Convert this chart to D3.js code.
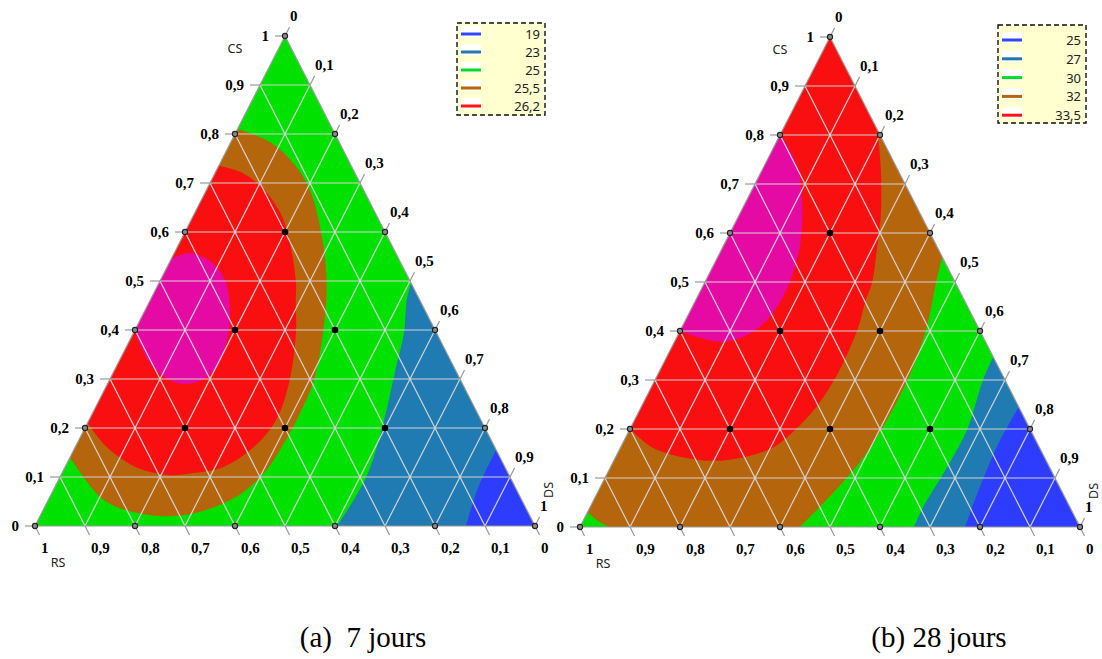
<!DOCTYPE html>
<html>
<head>
<meta charset="utf-8">
<script src="https://cdn.jsdelivr.net/npm/d3@7/dist/d3.min.js"></script>
<style>
  body { margin: 0; background: #fff; }
</style>
</head>
<body>
<div id="chart"></div>
<script>
// tick values along each side and their labels
const tickValues = [0, 0.1, 0.2, 0.3, 0.4, 0.5, 0.6, 0.7, 0.8, 0.9, 1];
const tickLabels = ['0', '0,1', '0,2', '0,3', '0,4', '0,5', '0,6', '0,7', '0,8', '0,9', '1'];

// design points [CS, DS] (RS = 1 - CS - DS)
const designPoints = [
  [1, 0], [0.8, 0], [0.6, 0], [0.4, 0], [0.2, 0], [0, 0],
  [0.8, 0.2], [0.6, 0.4], [0.4, 0.6], [0.2, 0.8], [0, 1],
  [0, 0.8], [0, 0.6], [0, 0.4], [0, 0.2],
  [0.6, 0.2], [0.4, 0.2], [0.4, 0.4], [0.2, 0.2], [0.2, 0.4], [0.2, 0.6]
];

// legend levels
const levels7 = ['19', '23', '25', '25,5', '26,2'];
const levels28 = ['25', '27', '30', '32', '33,5'];

// iso-boundaries, as [CS, DS]
// (a) 7 jours
const brown7 = [[0.81, 0], [0.782, 0.081], [0.733, 0.156], [0.68, 0.212], [0.61, 0.265], [0.543, 0.309],
  [0.47, 0.348], [0.394, 0.379], [0.298, 0.409], [0.231, 0.415], [0.176, 0.414], [0.108, 0.404],
  [0.059, 0.372], [0.029, 0.316], [0.02, 0.256], [0.027, 0.189], [0.053, 0.111], [0.14, 0]];
const red7 = [[0.735, 0], [0.72, 0.056], [0.686, 0.115], [0.631, 0.179], [0.569, 0.227], [0.496, 0.274],
  [0.461, 0.291], [0.394, 0.325], [0.292, 0.362], [0.216, 0.374], [0.161, 0.357], [0.12, 0.316],
  [0.108, 0.262], [0.104, 0.214], [0.12, 0.142], [0.161, 0.063], [0.21, 0]];
const magenta7 = [[0.545, 0], [0.557, 0.031], [0.539, 0.083], [0.502, 0.129], [0.451, 0.164], [0.4, 0.188],
  [0.38, 0.194], [0.324, 0.202], [0.294, 0.177], [0.292, 0.138], [0.324, 0.074], [0.38, 0.016], [0.4, 0]];
const steel7 = [[0.496, 0.504], [0.461, 0.513], [0.394, 0.541], [0.324, 0.56], [0.243, 0.583],
  [0.176, 0.6], [0.108, 0.612], [0.053, 0.611], [0, 0.604]];
const blue7 = [[0.155, 0.845], [0.08, 0.847], [0, 0.862]];

// (b) 28 jours
const brown28 = [[0.551, 0.449], [0.498, 0.463], [0.429, 0.484], [0.396, 0.492], [0.327, 0.503],
  [0.259, 0.506], [0.192, 0.503], [0.131, 0.493], [0.076, 0.474], [0, 0.44]];
const red28 = [[0.81, 0.19], [0.735, 0.234], [0.633, 0.285], [0.565, 0.311], [0.498, 0.335], [0.463, 0.34],
  [0.406, 0.353], [0.314, 0.359], [0.245, 0.35], [0.198, 0.331], [0.163, 0.306], [0.143, 0.259],
  [0.135, 0.199], [0.143, 0.131], [0.163, 0.062], [0.2, 0]];
const magenta28 = [[0.8, 0], [0.769, 0.035], [0.729, 0.072], [0.673, 0.107], [0.627, 0.131], [0.571, 0.154],
  [0.518, 0.167], [0.469, 0.171], [0.422, 0.163], [0.392, 0.138], [0.378, 0.097], [0.386, 0.047], [0.4, 0]];
const steel28 = [[0.347, 0.653], [0.3, 0.656], [0.198, 0.675], [0.122, 0.673], [0.041, 0.666], [0, 0.668]];
const blue28 = [[0.245, 0.755], [0.163, 0.752], [0.082, 0.759], [0, 0.77]];
const green28 = [[0.03, 0], [0.014, 0.027], [0, 0.058]];

// colours
const col = {
  blue: '#2d3cfd', steel: '#1f7bb1', green: '#00e100', brown: '#b5650b', red: '#f90f0f', magenta: '#e60aa5'
};
const legendColors = ['#2f48ff', '#2277b0', '#00dd22', '#b5650b', '#ff1515'];

const serif = "'Liberation Serif', 'Times New Roman', serif";
const sans = "'Noto Sans', 'DejaVu Sans', sans-serif";

const W = 1102, H = 659;
const svg = d3.select('#chart').append('svg').attr('width', W).attr('height', H);

const panels = [
  {
    id: 'a', left: 35, right: 535, top: 36, bottom: 526,
    layers: [
      { pts: brown7, close: [], color: col.brown },
      { pts: red7, close: [], color: col.red },
      { pts: magenta7, close: [], color: col.magenta },
      { pts: steel7, close: ['br'], color: col.steel },
      { pts: blue7, close: ['br'], color: col.blue }
    ],
    levels: levels7,
    legend: { x: 457, y: 23, w: 88, h: 92, row0: 34, step: 18 },
    caption: '(a)  7 jours', capX: 363
  },
  {
    id: 'b', left: 580, right: 1080, top: 37, bottom: 527,
    layers: [
      { pts: brown28, close: ['bl', 'top'], color: col.brown },
      { pts: red28, close: ['top'], color: col.red },
      { pts: magenta28, close: [], color: col.magenta },
      { pts: steel28, close: ['br'], color: col.steel },
      { pts: blue28, close: ['br'], color: col.blue },
      { pts: green28, close: ['bl'], color: col.green }
    ],
    levels: levels28,
    legend: { x: 998, y: 25, w: 88, h: 98, row0: 40, step: 18.8 },
    caption: '(b) 28 jours', capX: 939
  }
];

panels.forEach(p => {
  const x = d3.scaleLinear().domain([0, 1]).range([p.left, p.right]);
  const y = d3.scaleLinear().domain([0, 1]).range([p.bottom, p.top]);
  // [CS, DS] -> pixel
  const proj = d => [x(d[1] + d[0] / 2), y(d[0])];
  const corner = { top: [1, 0], bl: [0, 0], br: [0, 1] };

  const g = svg.append('g');

  // clip
  const tri = [corner.bl, corner.top, corner.br].map(proj);
  g.append('clipPath').attr('id', 'clip-' + p.id)
    .append('path').attr('d', 'M' + tri.join('L') + 'Z');

  const fills = g.append('g').attr('clip-path', `url(#clip-${p.id})`);
  fills.append('path').attr('d', 'M' + tri.join('L') + 'Z').attr('fill', col.green);

  const curve = d3.line().curve(d3.curveCatmullRom.alpha(0.5));
  p.layers.forEach(l => {
    let d = curve(l.pts.map(proj));
    l.close.forEach(c => { d += 'L' + proj(corner[c]).join(','); });
    fills.append('path').attr('d', d + 'Z').attr('fill', l.color);
  });

  // grid lines
  const grid = g.append('g').attr('stroke', '#d4d4d4').attr('stroke-width', 1.2);
  tickValues.slice(1, -1).forEach(v => {
    [[[v, 0], [v, 1 - v]], [[1 - v, v], [0, v]], [[1 - v, 0], [0, 1 - v]]].forEach(seg => {
      const a = proj(seg[0]), b = proj(seg[1]);
      grid.append('line').attr('x1', a[0]).attr('y1', a[1]).attr('x2', b[0]).attr('y2', b[1]);
    });
  });

  // triangle outline
  g.append('path').attr('d', 'M' + tri.join('L') + 'Z')
    .attr('fill', 'none').attr('stroke', '#9a9a9a').attr('stroke-width', 1.2);

  // tick directions
  const unit = (a, b) => { const dx = b[0] - a[0], dy = b[1] - a[1], n = Math.hypot(dx, dy); return [dx / n, dy / n]; };
  const upDir = unit(proj(corner.bl), proj(corner.top));
  const downDir = unit(proj(corner.top), proj(corner.br));
  const tl = 10;
  const ticks = g.append('g').attr('stroke', '#999').attr('stroke-width', 1.2);
  const labels = g.append('g')
    .attr('font-family', serif).attr('font-weight', 'bold').attr('font-size', 15);

  tickValues.forEach((v, i) => {
    // CS (left side)
    let a = proj([v, 0]);
    ticks.append('line').attr('x1', a[0]).attr('y1', a[1]).attr('x2', a[0] - tl).attr('y2', a[1]);
    labels.append('text').attr('x', a[0] - 16).attr('y', a[1] + 5).attr('text-anchor', 'end').text(tickLabels[i]);
    // DS (right side)
    a = proj([1 - v, v]);
    ticks.append('line').attr('x1', a[0]).attr('y1', a[1])
      .attr('x2', a[0] + upDir[0] * tl).attr('y2', a[1] + upDir[1] * tl);
    labels.append('text').attr('x', a[0] + 5).attr('y', a[1] - 15).text(tickLabels[i]);
    // RS (bottom)
    a = proj([0, 1 - v]);
    ticks.append('line').attr('x1', a[0]).attr('y1', a[1])
      .attr('x2', a[0] + downDir[0] * tl).attr('y2', a[1] + downDir[1] * tl);
    labels.append('text').attr('x', a[0] + 6).attr('y', a[1] + 27).text(tickLabels[i]);
  });

  // design points
  designPoints.forEach(d => {
    const a = proj(d);
    const edge = d[0] === 0 || d[1] === 0 || d[0] + d[1] >= 0.999;
    g.append('circle').attr('cx', a[0]).attr('cy', a[1])
      .attr('r', edge ? 2.6 : 3.3)
      .attr('fill', edge ? '#8a8a8a' : '#000')
      .attr('stroke', edge ? '#222' : 'none').attr('stroke-width', 1.1);
  });

  // axis names
  const topP = proj(corner.top), blP = proj(corner.bl), brP = proj(corner.br);
  const names = g.append('g').attr('font-family', sans).attr('font-size', 12.5).attr('fill', '#222');
  names.append('text').attr('x', topP[0] - 50).attr('y', topP[1] + 17).attr('text-anchor', 'middle').text('CS');
  names.append('text').attr('x', blP[0] + 23).attr('y', blP[1] + 41).attr('text-anchor', 'middle').text('RS');
  names.append('text').attr('transform', `translate(${brP[0] + 18},${brP[1] - 36}) rotate(-90)`)
    .attr('text-anchor', 'middle').text('DS');

  // legend
  const L = p.legend;
  const lg = g.append('g');
  lg.append('rect').attr('x', L.x).attr('y', L.y).attr('width', L.w).attr('height', L.h)
    .attr('fill', '#ffffd0').attr('stroke', '#111').attr('stroke-width', 1.4).attr('stroke-dasharray', '5,3');
  p.levels.forEach((lv, i) => {
    const ry = L.row0 + i * L.step;
    lg.append('rect').attr('x', L.x + 4).attr('y', ry - 8).attr('width', 20).attr('height', 11).attr('fill', '#fff');
    lg.append('line').attr('x1', L.x + 4).attr('x2', L.x + 24).attr('y1', ry).attr('y2', ry)
      .attr('stroke', legendColors[i]).attr('stroke-width', 3);
    lg.append('text').attr('x', L.x + L.w - 5).attr('y', ry + 5).attr('text-anchor', 'end')
      .attr('font-family', sans).attr('font-size', 13).attr('fill', '#222').text(lv);
  });

  // caption
  svg.append('text').attr('x', p.capX).attr('y', 647).attr('text-anchor', 'middle')
    .attr('font-family', serif).attr('font-size', 29)
    .style('white-space', 'pre').text(p.caption);
});
</script>
</body>
</html>
